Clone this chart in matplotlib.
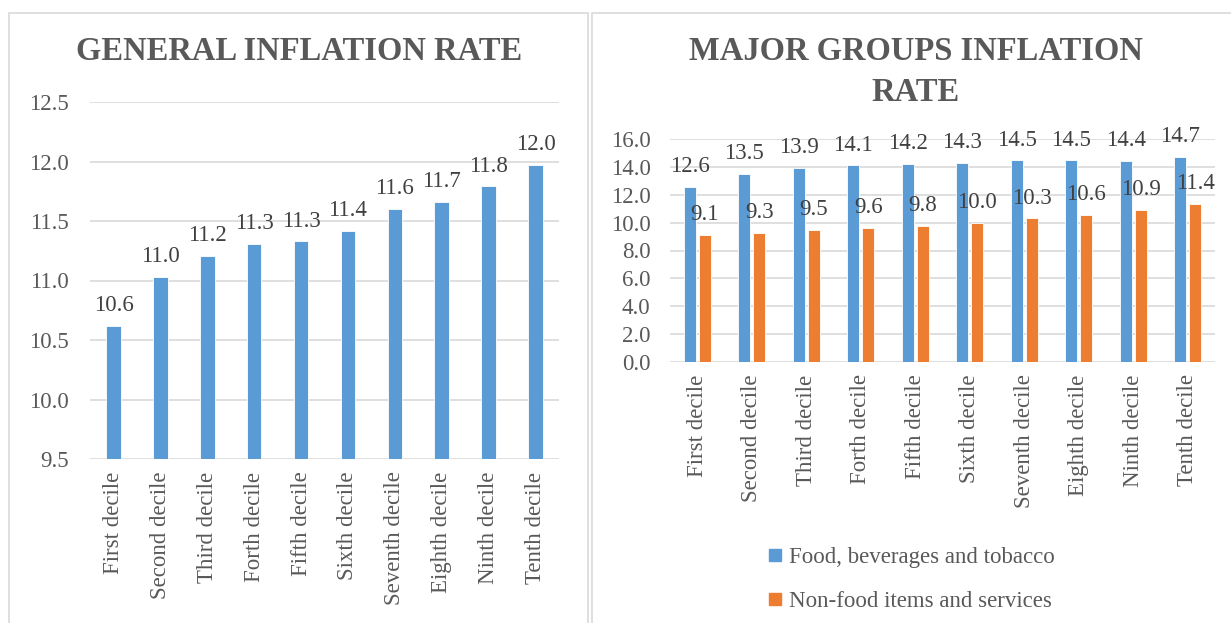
import matplotlib.pyplot as plt
from matplotlib.patches import Rectangle
from matplotlib.lines import Line2D
import numpy as np

plt.rcParams['font.family'] = ['Liberation Serif', 'DejaVu Serif']

deciles = ["First decile", "Second decile", "Third decile", "Forth decile", "Fifth decile",
           "Sixth decile", "Seventh decile", "Eighth decile", "Ninth decile", "Tenth decile"]
general = [10.62, 11.03, 11.21, 11.31, 11.33, 11.42, 11.60, 11.66, 11.79, 11.97]
food = [12.55, 13.5, 13.92, 14.1, 14.2, 14.3, 14.46, 14.47, 14.42, 14.72]
nonfood = [9.1, 9.27, 9.46, 9.62, 9.78, 9.98, 10.3, 10.56, 10.92, 11.36]
legend_labels = ["Food, beverages and tobacco", "Non-food items and services"]

blue = "#5B9BD5"
orange = "#ED7D31"
txt = "#595959"
lbl = "#404040"
grid = "#D9D9D9"
fs = 16.5

fig = plt.figure(figsize=(12.31, 6.23), dpi=100)

# panel borders
fig.patches.append(Rectangle((9/1231, -0.05), (588-9)/1231, 1.05 - 13/623, transform=fig.transFigure,
                             fill=False, edgecolor=grid, lw=1.2))
fig.patches.append(Rectangle((592/1231, -0.05), 0.6, 1.05 - 13/623, transform=fig.transFigure,
                             fill=False, edgecolor=grid, lw=1.2))

def style(ax, pady):
    for s in ax.spines.values():
        s.set_visible(False)
    ax.yaxis.grid(True, color=grid, lw=1.2)
    ax.set_axisbelow(True)
    ax.tick_params(axis='both', length=0, labelsize=fs, labelcolor=txt)
    ax.tick_params(axis='y', pad=pady)
    ax.tick_params(axis='x', pad=9)
    ax.set_xlim(-0.5, 9.5)

# left chart
ax1 = fig.add_axes([90/1231, 1 - 459/623, 469/1231, 357/623])
x = np.arange(len(deciles))
ax1.bar(x, [v - 9.5 for v in general], bottom=9.5, width=0.31, color=blue,
        edgecolor="white", lw=0.6)
ax1.set_ylim(9.5, 12.5)
ax1.set_yticks(np.arange(9.5, 12.51, 0.5))
ax1.set_yticklabels([f"{v:.1f}" for v in np.arange(9.5, 12.51, 0.5)])
ax1.set_xticks(x)
ax1.set_xticklabels(deciles, rotation=90)
style(ax1, 15)
for xi, v in zip(x, general):
    ax1.annotate(f"{v:.1f}", (xi, v), xytext=(0, 7), textcoords="offset points",
                 ha="center", va="bottom", fontsize=fs, color=lbl)
fig.text(299/1231, 1 - 52/623, "GENERAL INFLATION RATE", ha="center", va="center",
         fontsize=23.5, fontweight="bold", color=txt)

# right chart
ax2 = fig.add_axes([670/1231, 1 - 362/623, 545/1231, 223/623])
w = 0.22
off = 0.14
ax2.bar(x - off, food, width=w, color=blue, edgecolor="white", lw=0.6, label=legend_labels[0])
ax2.bar(x + off, nonfood, width=w, color=orange, edgecolor="white", lw=0.6, label=legend_labels[1])
ax2.set_ylim(0, 16)
ax2.set_yticks(np.arange(0, 16.1, 2))
ax2.set_yticklabels([f"{v:.1f}" for v in np.arange(0, 16.1, 2)])
ax2.set_xticks(x)
ax2.set_xticklabels(deciles, rotation=90)
style(ax2, 14)
for xi, v in zip(x, food):
    ax2.annotate(f"{v:.1f}", (xi - off, v), xytext=(0, 7), textcoords="offset points",
                 ha="center", va="bottom", fontsize=fs, color=lbl)
for xi, v in zip(x, nonfood):
    ax2.annotate(f"{v:.1f}", (xi + off, v), xytext=(0, 7), textcoords="offset points",
                 ha="center", va="bottom", fontsize=fs, color=lbl)
fig.text(916/1231, 1 - 72/623, "MAJOR GROUPS INFLATION\nRATE", ha="center", va="center",
         fontsize=23.5, fontweight="bold", color=txt, linespacing=1.4)

handles = [Line2D([], [], marker="s", ls="", color=c, markersize=9) for c in (blue, orange)]
leg = fig.legend(handles, legend_labels, loc="upper left", bbox_to_anchor=(768/1231, 1 - 547/623),
                 frameon=False, fontsize=fs, handlelength=0.6, handletextpad=0.3,
                 labelspacing=1.0, borderpad=0, borderaxespad=0)
for t in leg.get_texts():
    t.set_color(txt)

fig.savefig("out.png", dpi=100)
